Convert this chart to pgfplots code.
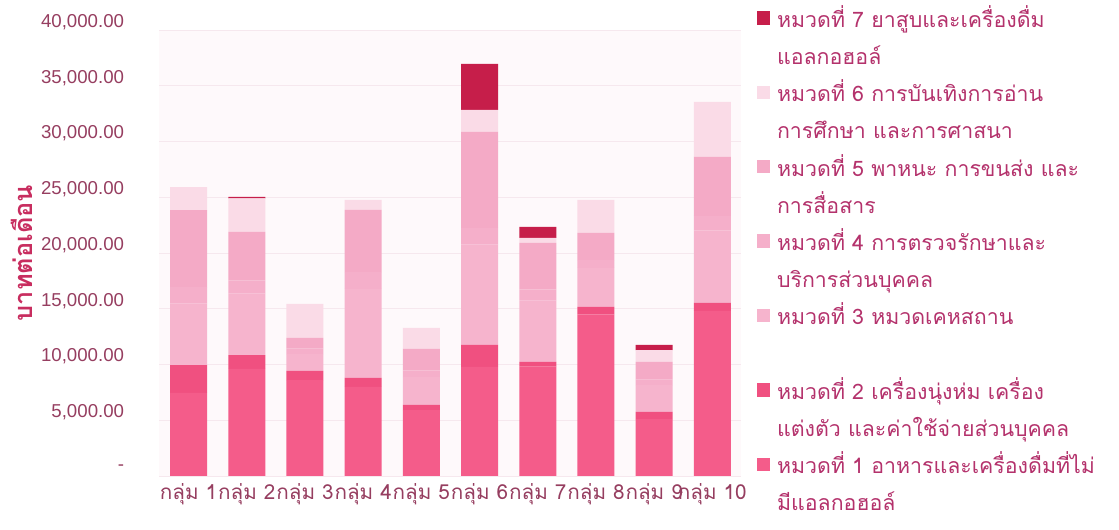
\documentclass[border=0pt]{standalone}
\usepackage{fontspec}
\setmainfont{Liberation Sans}
\newfontfamily\thaifont[Script=Thai]{Loma}
\usepackage{pgfplots}
\pgfplotsset{compat=1.18}
\definecolor{cA}{RGB}{244,92,138}
\definecolor{cB}{RGB}{240,80,128}
\definecolor{cC}{RGB}{246,180,205}
\definecolor{cD}{RGB}{245,175,202}
\definecolor{cE}{RGB}{244,170,198}
\definecolor{cF}{RGB}{250,219,231}
\definecolor{cG}{RGB}{198,30,74}
\definecolor{tickc}{RGB}{150,62,96}
\definecolor{legc}{RGB}{180,50,108}
\definecolor{ylabc}{RGB}{200,45,95}
\definecolor{gridc}{RGB}{246,232,238}
\definecolor{bgc}{RGB}{254,249,251}
\begin{document}
\begin{tikzpicture}
\begin{axis}[
  scale only axis, width=436.5pt, height=334.5pt,
  ybar stacked, bar width=27.75pt,
  xmin=-0.5, xmax=9.5, ymin=0, ymax=40000,
  scaled y ticks=false,
  xtick={0,...,9},
  xticklabels={กลุ่ม 1,กลุ่ม 2,กลุ่ม 3,กลุ่ม 4,กลุ่ม 5,กลุ่ม 6,กลุ่ม 7,กลุ่ม 8,กลุ่ม 9,กลุ่ม 10},
  xticklabel style={font=\thaifont\fontsize{15.5}{17}\selectfont, text=tickc, yshift=-2pt},
  ytick={0,5000,10000,15000,20000,25000,30000,35000,40000},
  yticklabels={-,{5,000.00},{10,000.00},{15,000.00},{20,000.00},{25,000.00},{30,000.00},{35,000.00},{40,000.00}},
  yticklabel style={font=\fontsize{14}{16}\selectfont, text=tickc, xshift=-23pt, yshift=6pt},
  ymajorgrids, grid style={gridc, line width=0.6pt},
  axis line style={draw=none}, major tick length=0pt,
  axis background/.style={fill=bgc},
  ylabel={บาทต่อเดือน},
  ylabel style={font=\thaifont\bfseries\fontsize{19}{21}\selectfont, text=ylabc, at={(axis description cs:-0.236,0.5)}, anchor=center},
  legend style={at={(1,1)}, anchor=north west, xshift=11.5pt, yshift=19.25pt, draw=none, fill=none, inner sep=0pt,
    font=\thaifont\fontsize{16}{18}\selectfont, text=legc, row sep=0pt,
    nodes={inner sep=0pt, text height=17pt, text depth=10.9pt},
    /tikz/every odd column/.append style={column sep=5pt}},
  legend cell align=left,
  legend image code/.code={\fill[#1] (0pt,-1pt) rectangle (10pt,9pt);},
]
\addlegendimage{fill=cG,draw=none}\addlegendentry{หมวดที่ 7 ยาสูบและเครื่องดื่ม}
\addlegendimage{empty legend}\addlegendentry{แอลกอฮอล์}
\addlegendimage{fill=cF,draw=none}\addlegendentry{หมวดที่ 6 การบันเทิงการอ่าน}
\addlegendimage{empty legend}\addlegendentry{การศึกษา และการศาสนา}
\addlegendimage{fill=cE,draw=none}\addlegendentry{หมวดที่ 5 พาหนะ การขนส่ง และ}
\addlegendimage{empty legend}\addlegendentry{การสื่อสาร}
\addlegendimage{fill=cD,draw=none}\addlegendentry{หมวดที่ 4 การตรวจรักษาและ}
\addlegendimage{empty legend}\addlegendentry{บริการส่วนบุคคล}
\addlegendimage{fill=cC,draw=none}\addlegendentry{หมวดที่ 3 หมวดเคหสถาน}
\addlegendimage{empty legend}\addlegendentry{}
\addlegendimage{fill=cB,draw=none}\addlegendentry{หมวดที่ 2 เครื่องนุ่งห่ม เครื่อง}
\addlegendimage{empty legend}\addlegendentry{แต่งตัว และค่าใช้จ่ายส่วนบุคคล}
\addlegendimage{fill=cA,draw=none}\addlegendentry{หมวดที่ 1 อาหารและเครื่องดื่มที่ไม่}
\addlegendimage{empty legend}\addlegendentry{มีแอลกอฮอล์}
% cat 1
\addplot[fill=cA, draw=none] coordinates {(0,7450) (1,9600) (2,8600) (3,8000) (4,5900) (5,9780) (6,9800) (7,14500) (8,5100) (9,14800)};
% cat 2
\addplot[fill=cB, draw=none] coordinates {(0,2500) (1,1250) (2,820) (3,790) (4,470) (5,1970) (6,430) (7,660) (8,640) (9,720)};
% cat 3
\addplot[fill=cC, draw=none] coordinates {(0,5500) (1,5500) (2,1500) (3,8000) (4,2500) (5,9000) (6,5500) (7,3500) (8,2400) (9,6500)};
% cat 4
\addplot[fill=cD, draw=none] coordinates {(0,1500) (1,1200) (2,500) (3,1500) (4,600) (5,1500) (6,1000) (7,700) (8,500) (9,1300)};
% cat 5
\addplot[fill=cE, draw=none] coordinates {(0,6900) (1,4340) (2,960) (3,5570) (4,1920) (5,8610) (6,4170) (7,2440) (8,1590) (9,5290)};
% cat 6
\addplot[fill=cF, draw=none] coordinates {(0,2060) (1,3000) (2,3050) (3,900) (4,1890) (5,1970) (6,450) (7,2960) (8,1070) (9,4940)};
% cat 7
\addplot[fill=cG, draw=none] coordinates {(0,0) (1,150) (2,0) (3,0) (4,0) (5,4130) (6,990) (7,0) (8,450) (9,0)};
\end{axis}
\pgfresetboundingbox
\path[use as bounding box] (current axis.south west) ++(-119.6pt,-40.5pt) rectangle ++(839.25pt,397.5pt);
\end{tikzpicture}
\end{document}
